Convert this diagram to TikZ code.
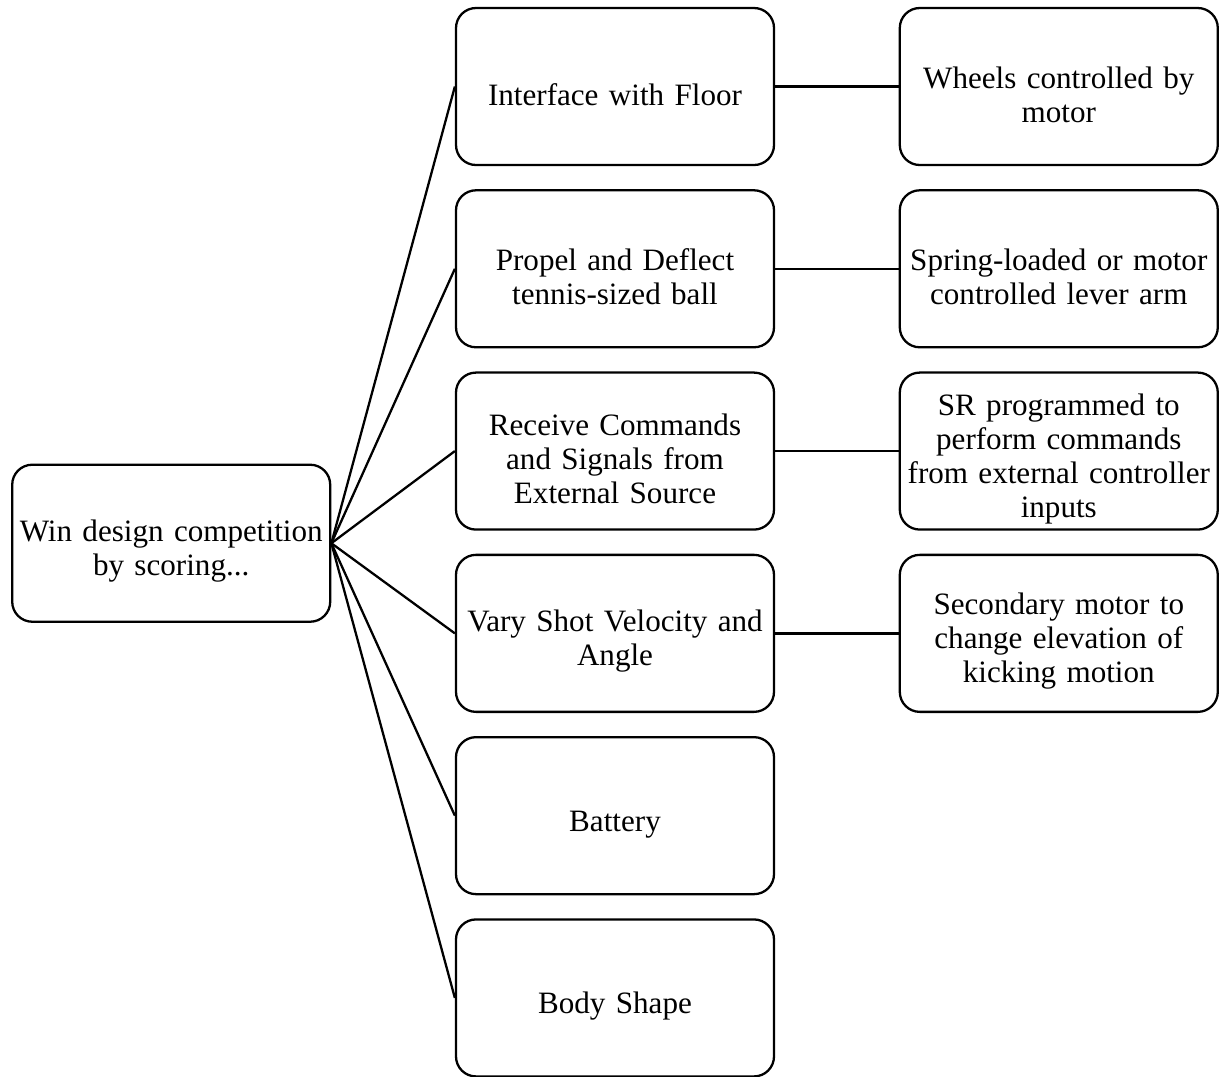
\documentclass[tikz,border=0pt]{standalone}
\usepackage{fontspec}
\setmainfont{Liberation Serif}
\usetikzlibrary{positioning}
\tikzset{%
   blk/.style={rectangle, rounded corners=0.4cm, draw=black, line width=1.3pt,
     minimum width=6.36cm, minimum height=3.14cm, text width=6.2cm, align=center,
     inner sep=1pt, font=\fontsize{17.7}{19.4}\selectfont,
     execute at begin node=\rule{0pt}{21.5pt}},
   lnk/.style={line width=1.3pt},
}

\begin{document}
\begin{tikzpicture}
   \useasboundingbox (0,0) rectangle (24.42,-21.52);
   \node[blk] (m1) at (12.3,-1.73) {Interface with Floor};
   \node[blk, below=0.46cm of m1] (m2) {Propel and Deflect\\tennis-sized ball};
   \node[blk, below=0.46cm of m2] (m3) {Receive Commands\\and Signals from\\External Source};
   \node[blk, below=0.46cm of m3] (m4) {Vary Shot Velocity and\\Angle};
   \node[blk, below=0.46cm of m4] (m5) {Battery};
   \node[blk, below=0.46cm of m5] (m6) {Body Shape};
   \node[blk, left=2.47cm of m3.south west, yshift=-0.25cm] (root) {Win design competition\\by scoring...};
   \node[blk, right=2.47cm of m1] (s1) {Wheels controlled by\\motor};
   \node[blk, right=2.47cm of m2] (s2) {Spring-loaded or motor\\controlled lever arm};
   \node[blk, right=2.47cm of m3] (s3) {SR programmed to\\perform commands\\from external controller\\inputs};
   \node[blk, right=2.47cm of m4] (s4) {Secondary motor to\\change elevation of\\kicking motion};
   \foreach \i in {1,...,6}
      \draw[lnk] (root.east) -- (m\i.west);
   \foreach \i in {1,...,4}
      \draw[lnk] (m\i) -- (s\i);
\end{tikzpicture}
\end{document}
